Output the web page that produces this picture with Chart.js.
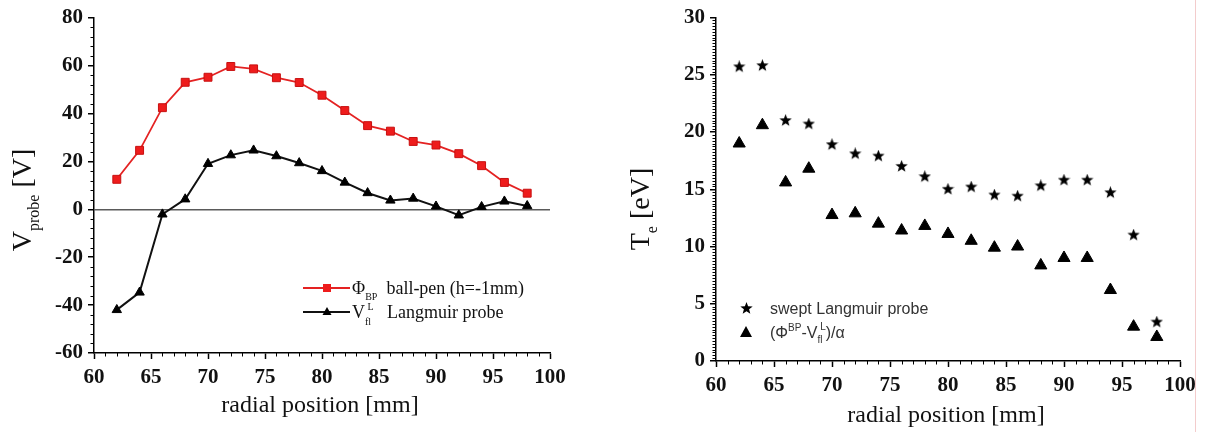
<!DOCTYPE html>
<html>
<head>
<meta charset="utf-8">
<script src="https://cdn.jsdelivr.net/npm/chart.js@4.4.1/dist/chart.umd.min.js"></script>
<style>
  body { margin: 0; background: #fff; }
  #wrap { position: relative; width: 1207px; height: 432px; overflow: hidden; }
  #c1 { position: absolute; left: 0; top: 0; }
  #c2 { position: absolute; left: 600px; top: 0; }
  #edge { position: absolute; left: 1195px; top: 0; width: 1px; height: 432px; background: #f3cccc; }
</style>
</head>
<body>
<div id="wrap">
  <canvas id="c1" width="590" height="432"></canvas>
  <canvas id="c2" width="607" height="432"></canvas>
  <div id="edge"></div>
</div>
<script>
// radial positions [mm]
const positions = [62, 64, 66, 68, 70, 72, 74, 76, 78, 80, 82, 84, 86, 88, 90, 92, 94, 96, 98];
// left panel: probe potentials [V]
const phiBallPen = [12.5, 24.6, 42.4, 53.0, 55.1, 59.6, 58.6, 54.9, 52.9, 47.6, 41.2, 34.9, 32.6, 28.3, 26.8, 23.2, 18.2, 11.2, 6.7];
const vFloatLangmuir = [-42.0, -34.7, -2.1, 4.2, 19.0, 22.6, 24.6, 22.2, 19.3, 16.0, 11.2, 6.8, 3.7, 4.5, 1.2, -2.5, 1.0, 3.3, 1.4];
// right panel: electron temperature [eV]
const teSwept = [25.7, 25.8, 21.0, 20.7, 18.9, 18.1, 17.9, 17.0, 16.1, 15.0, 15.2, 14.5, 14.4, 15.3, 15.8, 15.8, 14.7, 11.0, 3.4];
const teBallPen = [19.0, 20.6, 15.6, 16.8, 12.75, 12.9, 12.0, 11.4, 11.8, 11.1, 10.5, 9.9, 10.0, 8.35, 9.0, 9.0, 6.2, 3.0, 2.1];
// tick settings
const xTicks = { min: 60, max: 100, step: 5, minor: 1 };
const yTicksLeft = { min: -60, max: 80, step: 20, minor: 4 };
const yTicksRight = { min: 0, max: 30, step: 5, minor: 0.25 };

const SERIF = "'Liberation Serif', 'Times New Roman', serif";
const SANS = "'Liberation Sans', Arial, sans-serif";

// filled five point star used as point style
function makeStar(size) {
  const c = document.createElement('canvas');
  c.width = size; c.height = size;
  const g = c.getContext('2d');
  const cx = size / 2, cy = size / 2, ro = size / 2, ri = ro * 0.42;
  g.beginPath();
  for (let i = 0; i < 10; i++) {
    const r = i % 2 ? ri : ro;
    const a = -Math.PI / 2 + i * Math.PI / 5;
    g.lineTo(cx + r * Math.cos(a), cy + r * Math.sin(a));
  }
  g.closePath();
  g.fillStyle = '#000';
  g.fill();
  return c;
}
const star = makeStar(13);

function pts(ys) {
  return positions.map((x, i) => ({ x: x, y: ys[i] }));
}

// text with sub / superscripts: parts = [{t, s, dy, stack}]
function richWidth(ctx, parts, fam) {
  let w = 0;
  parts.forEach(p => {
    ctx.font = p.s + 'px ' + fam;
    const pw = ctx.measureText(p.t).width;
    if (p.stack) {
      ctx.font = p.stack.s + 'px ' + fam;
      w += Math.max(pw, ctx.measureText(p.stack.t).width);
    } else w += pw;
  });
  return w;
}
function drawRich(ctx, parts, x, y, fam, center) {
  let cx = center ? x - richWidth(ctx, parts, fam) / 2 : x;
  ctx.textAlign = 'left';
  ctx.textBaseline = 'alphabetic';
  parts.forEach(p => {
    ctx.font = p.s + 'px ' + fam;
    ctx.fillText(p.t, cx, y + (p.dy || 0));
    let pw = ctx.measureText(p.t).width;
    if (p.stack) {
      ctx.font = p.stack.s + 'px ' + fam;
      ctx.fillText(p.stack.t, cx, y + p.stack.dy);
      pw = Math.max(pw, ctx.measureText(p.stack.t).width);
    }
    cx += pw;
  });
}

// per panel extras (kept out of chart options so they are not treated as scriptable)
const panels = {
  c1: {
    yTicks: yTicksLeft,
    xTitle: { x: 320, y: 406 },
    yTitle: { x: 22, y: 200, parts: [{ t: 'V', s: 28 }, { t: 'probe', s: 16, dy: 8 }, { t: ' [V]', s: 28 }] },
    legend(ctx) {
      ctx.lineWidth = 1.8;
      ctx.strokeStyle = '#e42222';
      ctx.beginPath(); ctx.moveTo(303, 288); ctx.lineTo(350, 288); ctx.stroke();
      ctx.fillStyle = '#ee1c1c';
      ctx.fillRect(323, 284, 8, 8);
      ctx.strokeStyle = '#111';
      ctx.beginPath(); ctx.moveTo(303, 312); ctx.lineTo(350, 312); ctx.stroke();
      ctx.fillStyle = '#000';
      ctx.beginPath(); ctx.moveTo(327, 307); ctx.lineTo(331.5, 315); ctx.lineTo(322.5, 315); ctx.closePath(); ctx.fill();
      ctx.fillStyle = '#111';
      drawRich(ctx, [{ t: '\u03A6', s: 18 }, { t: 'BP', s: 10, dy: 6 }, { t: '  ball-pen (h=-1mm)', s: 18 }], 352, 294, SERIF, false);
      drawRich(ctx, [{ t: 'V', s: 18 }, { t: 'fl', s: 10, dy: 7, stack: { t: ' L', s: 10, dy: -8 } }, { t: '   Langmuir probe', s: 18 }], 352, 318, SERIF, false);
    }
  },
  c2: {
    yTicks: yTicksRight,
    xTitle: { x: 346, y: 416 },
    yTitle: { x: 40, y: 209, parts: [{ t: 'T', s: 28 }, { t: 'e', s: 16, dy: 8 }, { t: ' [eV]', s: 28 }] },
    legend(ctx) {
      ctx.drawImage(star, 140, 302);
      ctx.fillStyle = '#000';
      ctx.beginPath(); ctx.moveTo(146, 326); ctx.lineTo(152, 337); ctx.lineTo(140, 337); ctx.closePath(); ctx.fill();
      ctx.fillStyle = '#333';
      drawRich(ctx, [{ t: 'swept Langmuir probe', s: 16 }], 170, 314, SANS, false);
      drawRich(ctx, [{ t: '(\u03A6', s: 16 }, { t: 'BP', s: 10, dy: -7 }, { t: '-V', s: 16 },
        { t: 'fl', s: 10, dy: 5, stack: { t: ' L', s: 10, dy: -8 } }, { t: ')/\u03B1', s: 16 }], 170, 338, SANS, false);
    }
  }
};

// minor ticks, titles and legend drawn on top of the chart
const decor = {
  id: 'decor',
  afterDraw(chart) {
    const o = panels[chart.canvas.id];
    const ctx = chart.ctx;
    const a = chart.chartArea;
    const xs = chart.scales.x, ys = chart.scales.y;
    ctx.save();
    ctx.strokeStyle = '#000';
    ctx.lineWidth = 1;
    for (let v = xTicks.min; v <= xTicks.max + 1e-9; v += xTicks.minor) {
      if (Math.abs(v / xTicks.step - Math.round(v / xTicks.step)) < 1e-6) continue;
      const px = Math.round(xs.getPixelForValue(v)) + 0.5;
      ctx.beginPath(); ctx.moveTo(px, a.bottom); ctx.lineTo(px, a.bottom + 3.5); ctx.stroke();
    }
    const yt = o.yTicks;
    for (let v = yt.min; v <= yt.max + 1e-9; v += yt.minor) {
      if (Math.abs(v / yt.step - Math.round(v / yt.step)) < 1e-6) continue;
      const py = Math.round(ys.getPixelForValue(v)) + 0.5;
      ctx.beginPath(); ctx.moveTo(a.left, py); ctx.lineTo(a.left - 3.5, py); ctx.stroke();
    }
    ctx.fillStyle = '#111';
    // x title
    ctx.font = '24px ' + SERIF;
    ctx.textAlign = 'center';
    ctx.textBaseline = 'middle';
    ctx.fillText('radial position [mm]', o.xTitle.x, o.xTitle.y);
    // y title
    ctx.save();
    ctx.translate(o.yTitle.x, o.yTitle.y);
    ctx.rotate(-Math.PI / 2);
    drawRich(ctx, o.yTitle.parts, 0, 9, SERIF, true);
    ctx.restore();
    o.legend(ctx);
    ctx.restore();
  }
};

function axisX(height) {
  return {
    type: 'linear', min: xTicks.min, max: xTicks.max,
    ticks: { stepSize: xTicks.step, color: '#111', padding: 6, font: { family: SERIF, size: 21, weight: 'bold' }, maxRotation: 0 },
    grid: { drawOnChartArea: false, tickLength: 6, tickColor: '#000', tickWidth: 1.5 },
    border: { color: '#000', width: 1.5 },
    afterFit(s) { s.height = height; }
  };
}
function axisY(t, width, zeroLine) {
  return {
    type: 'linear', min: t.min, max: t.max,
    ticks: { stepSize: t.step, color: '#111', padding: 5, font: { family: SERIF, size: 21, weight: 'bold' } },
    grid: {
      drawOnChartArea: zeroLine,
      color: c => (zeroLine && c.tick && c.tick.value === 0) ? '#5a5a5a' : 'rgba(0,0,0,0)',
      lineWidth: 1.5,
      tickLength: 6, tickColor: '#000', tickWidth: 1.5
    },
    border: { color: '#000', width: 1.5 },
    afterFit(s) { s.width = width; }
  };
}

// left panel
new Chart(document.getElementById('c1'), {
  type: 'line',
  data: {
    datasets: [
      { label: 'ball-pen', data: pts(phiBallPen), borderColor: '#e42222', borderWidth: 1.8,
        pointStyle: 'rect', pointRadius: 5.6, pointBackgroundColor: '#ee1c1c', pointBorderColor: '#c81010', pointBorderWidth: 1, tension: 0, clip: false },
      { label: 'Langmuir', data: pts(vFloatLangmuir), borderColor: '#111', borderWidth: 2,
        pointStyle: 'triangle', pointRadius: 5.4, pointBackgroundColor: '#000', pointBorderColor: '#000', pointBorderWidth: 1, tension: 0, clip: false }
    ]
  },
  options: {
    responsive: false, animation: false, events: [],
    layout: { padding: { left: 0, right: 40, top: 16, bottom: 0 } },
    scales: { x: axisX(79), y: axisY(yTicksLeft, 94, true) },
    plugins: { legend: { display: false }, tooltip: { enabled: false } }
  },
  plugins: [decor]
});

// right panel
new Chart(document.getElementById('c2'), {
  type: 'scatter',
  data: {
    datasets: [
      { label: 'swept', data: pts(teSwept), pointStyle: star, clip: false },
      { label: 'ratio', data: pts(teBallPen), pointStyle: 'triangle', pointRadius: 7,
        pointBackgroundColor: '#000', pointBorderColor: '#000', pointBorderWidth: 1, clip: false }
    ]
  },
  options: {
    responsive: false, animation: false, events: [],
    layout: { padding: { left: 0, right: 27, top: 16, bottom: 0 } },
    scales: { x: axisX(71), y: axisY(yTicksRight, 116, false) },
    plugins: { legend: { display: false }, tooltip: { enabled: false } }
  },
  plugins: [decor]
});
</script>
</body>
</html>
